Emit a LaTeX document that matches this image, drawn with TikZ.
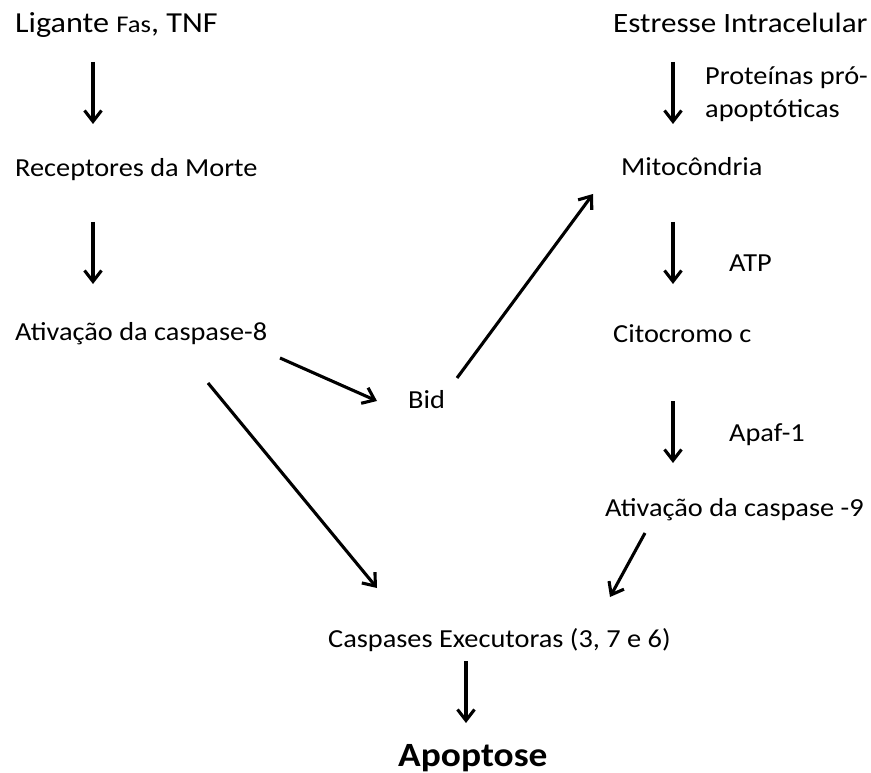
\documentclass[tikz,border=0pt]{standalone}
\usepackage{fontspec}
\setmainfont{Carlito}
\newfontfamily\mainf[FakeStretch=1.09]{Carlito}
\newfontfamily\topf[FakeStretch=1.11]{Carlito}
\newfontfamily\apof[FakeStretch=1.1]{Carlito Bold}
\usetikzlibrary{arrows.meta}
\tikzset{
  lbl/.style={anchor=base west, inner sep=0pt, font=\mainf\fontsize{26}{30}\selectfont},
  toplbl/.style={anchor=base west, inner sep=0pt, font=\topf\fontsize{28}{32}\selectfont},
  arr/.style={line width=3.1pt, -{Straight Barb[length=11pt,width=17pt,line width=3.1pt]}}
}
\begin{document}
\begin{tikzpicture}[x=1pt,y=-1pt]
\useasboundingbox (0,0) rectangle (871,773);
\node[toplbl, font=\topf\fontsize{29}{33}\selectfont] (lig) at (15,33) {Ligante {\fontsize{24}{27}\selectfont Fas}, TNF};
\node[toplbl] (est) at (613,33) {Estresse Intracelular};
\node[lbl] (prot1) at (705,85) {Proteínas pró-};
\node[lbl] (prot2) at (705,118) {apoptóticas};
\node[lbl] (rec) at (15,177) {Receptores da Morte};
\node[lbl] (mit) at (621,176) {Mitocôndria};
\node[lbl] (atp) at (729,272) {ATP};
\node[lbl] (at8) at (15,340) {Ativação da caspase-8};
\node[lbl] (cit) at (613,342) {Citocromo c};
\node[lbl] (bid) at (408,408) {Bid};
\node[lbl] (apaf) at (729,441) {Apaf-1};
\node[lbl] (at9) at (605,516) {Ativação da caspase -9};
\node[lbl] (casp) at (328,647) {Caspases Executoras (3, 7 e 6)};
\node[anchor=base west, inner sep=0pt, font=\apof\fontsize{34}{38}\selectfont] (apo) at (398,766) {Apoptose};
% arrow end points
\coordinate (a1s) at (93,62);   \coordinate (a1e) at (93,124);
\coordinate (a2s) at (673,62);  \coordinate (a2e) at (673,124);
\coordinate (a3s) at (93,222);  \coordinate (a3e) at (93,284);
\coordinate (a4s) at (673,222); \coordinate (a4e) at (673,284);
\coordinate (a5s) at (673,401); \coordinate (a5e) at (673,463);
\coordinate (a6s) at (280,358); \coordinate (a6e) at (377,401);
\coordinate (a7s) at (457,378); \coordinate (a7e) at (593,194);
\coordinate (a8s) at (208,383); \coordinate (a8e) at (377,588);
\coordinate (a9s) at (645,533); \coordinate (a9e) at (610,597);
\coordinate (a10s) at (466,661); \coordinate (a10e) at (466,723);
\draw[arr] (a1s) -- (a1e);
\draw[arr] (a2s) -- (a2e);
\draw[arr] (a3s) -- (a3e);
\draw[arr] (a4s) -- (a4e);
\draw[arr] (a5s) -- (a5e);
\draw[arr] (a6s) -- (a6e);
\draw[arr] (a7s) -- (a7e);
\draw[arr] (a8s) -- (a8e);
\draw[arr] (a9s) -- (a9e);
\draw[arr] (a10s) -- (a10e);
\end{tikzpicture}
\end{document}
